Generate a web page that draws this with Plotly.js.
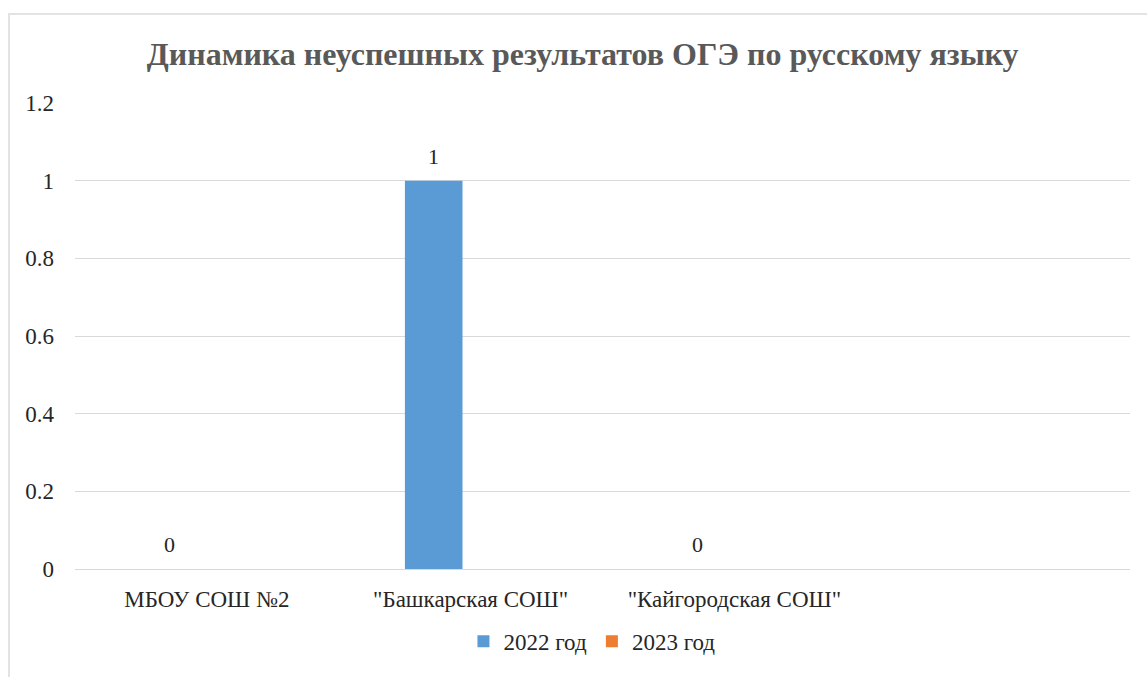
<!DOCTYPE html>
<html><head><meta charset="utf-8">
<script src="https://cdn.plot.ly/plotly-3.0.1.min.js"></script>
<style>
html,body{margin:0;padding:0;overflow:hidden;background:#fff;}
#frame{position:absolute;left:8px;top:13px;width:1200px;height:700px;border:2px solid #e3e3e3;box-sizing:border-box;pointer-events:none;}
</style></head>
<body><div id="chart"></div><div id="frame"></div>
<script>
const categories = ['МБОУ СОШ №2', '"Башкарская СОШ"', '"Кайгородская СОШ"'];
const values2022 = [0, 1, 0];
const values2023 = [null, null, null];
const seriesNames = ['2022 год', '2023 год'];
const yTicks = [0, 0.2, 0.4, 0.6, 0.8, 1, 1.2];
const yTickLabels = ['0', '0.2', '0.4', '0.6', '0.8', '1', '1.2'];

const FAM = '"Liberation Serif", serif';
const TXT = '#262626';

const traces = [
  {type:'bar', name:seriesNames[0], x:categories, y:values2022,
   marker:{color:'#5b9bd5'}, offsetgroup:'a'},
  {type:'bar', name:seriesNames[1], x:categories, y:values2023,
   marker:{color:'#ed7d31'}, offsetgroup:'b'}
];

const annotations = [];
values2022.forEach((v, i) => {
  if (v !== null) annotations.push({x:i - 0.14, y:v, xref:'x', yref:'y', text:String(v),
    showarrow:false, yanchor:'bottom', yshift:10, font:{family:FAM, size:22, color:TXT}});
});
values2023.forEach((v, i) => {
  if (v !== null) annotations.push({x:i + 0.14, y:v, xref:'x', yref:'y', text:String(v),
    showarrow:false, yanchor:'bottom', yshift:10, font:{family:FAM, size:22, color:TXT}});
});

const layout = {
  width:1147, height:677,
  margin:{l:75, r:17, t:103, b:108},
  paper_bgcolor:'#fff', plot_bgcolor:'#fff',
  title:{text:'<b>Динамика неуспешных результатов ОГЭ по русскому языку</b>',
         font:{family:FAM, size:32, color:'#595959'}, x:0.508, xanchor:'center', y:0.92, yanchor:'middle'},
  barmode:'group', bargap:0.44, bargroupgap:0.22,
  annotations:annotations,
  xaxis:{type:'category', range:[-0.5, 3.5], showgrid:false, zeroline:false,
         showline:false, ticks:'', tickfont:{family:FAM, size:23, color:TXT},
         ticklabelstandoff:14, fixedrange:true},
  yaxis:{range:[0, 1.2], tickvals:yTicks, ticktext:yTickLabels, showgrid:true,
         gridcolor:'#d9d9d9', gridwidth:1, zeroline:true, zerolinecolor:'#d9d9d9', zerolinewidth:1,
         showline:false, ticks:'', tickfont:{family:FAM, size:23, color:TXT},
         ticklabelstandoff:20, fixedrange:true},
  showlegend:true,
  legend:{orientation:'h', x:0.49, xanchor:'center', y:-0.155, yanchor:'middle',
          font:{family:FAM, size:23, color:TXT}, itemwidth:30, traceorder:'normal'}
};
Plotly.newPlot('chart', traces, layout, {displayModeBar:false});
</script></body></html>
